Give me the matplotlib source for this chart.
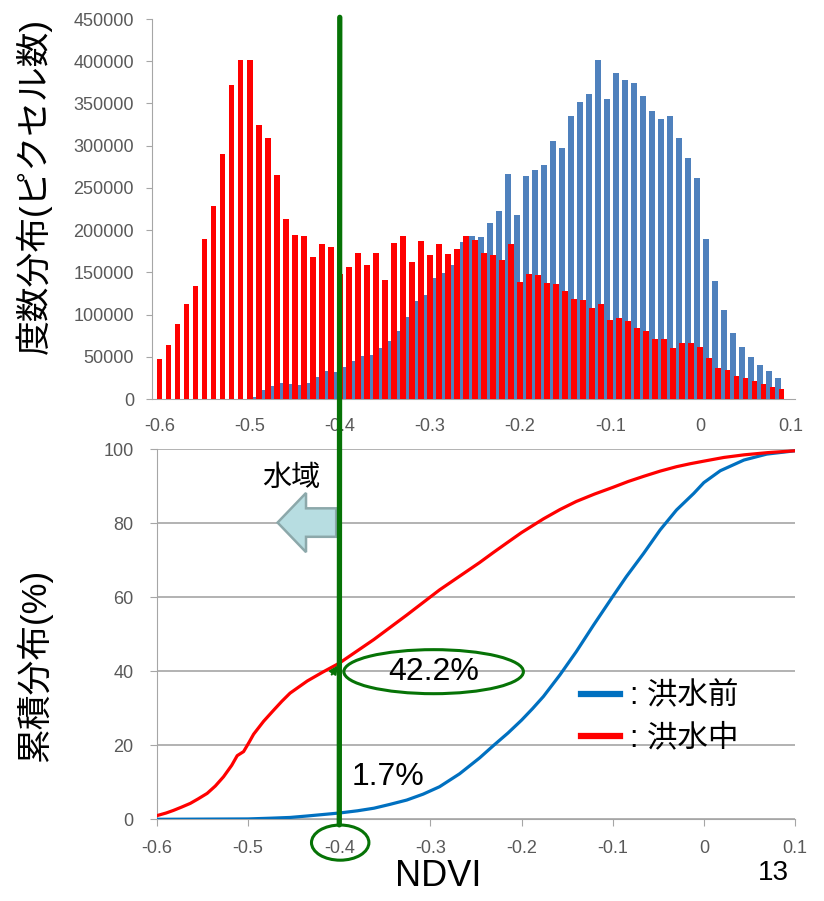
import numpy as np
import matplotlib
matplotlib.use("Agg")
import matplotlib.pyplot as plt
from matplotlib.patches import Ellipse, FancyArrow, ConnectionPatch

plt.rcParams['font.family'] = ['Liberation Sans', 'Noto Sans CJK JP']

# histogram bins (NDVI), 0.01 wide
ndvi_bins = np.round(np.arange(-0.6, 0.095, 0.01), 2)

# pixel counts, before flood (blue)
count_before = [0, 0, 0, 0, 0, 0, 0, 0, 0, 0, 500, 2700, 10700, 15400, 18600,
                17400, 16600, 18600, 25700, 33500, 32300, 38300, 45400, 50900, 52100,
                60000, 68700, 80900, 97500, 116400, 123200, 142900, 148800, 158700, 186300,
                193000, 191500, 208800, 223000, 266600, 218000, 263800, 270900, 277300, 306100,
                297800, 335700, 352300, 361400, 400900, 354700, 386300, 377200, 374800, 359400,
                341600, 331000, 334900, 308800, 285500, 261800, 189200, 139800, 105100, 78600,
                62000, 50200, 40700, 33200, 24500]

# pixel counts, during flood (red)
count_during = [47000, 63600, 88900, 113000, 133500, 189600, 228700, 290300, 372000, 401700,
                400900, 324300, 309600, 265400, 213700, 194700, 193100, 168200, 183300, 179700,
                147700, 156000, 172600, 158800, 172600, 141000, 184400, 193100, 161900, 187200,
                171000, 183300, 171800, 178100, 192700, 188000, 172600, 170600, 164700, 183300,
                139000, 148500, 146900, 137400, 135900, 128000, 118900, 116900, 107400, 112200,
                93600, 95600, 92800, 83700, 80600, 70700, 70700, 60000, 66000, 66000,
                62000, 49000, 36300, 34400, 27600, 25300, 21300, 17400, 14600, 11800]

# cumulative distribution (%)
cum_before_x = [-0.6, -0.5, -0.475, -0.454, -0.435, -0.4, -0.38, -0.362, -0.345, -0.326,
                -0.308, -0.29, -0.268, -0.246, -0.231, -0.215, -0.2, -0.188, -0.176, -0.158,
                -0.14, -0.121, -0.1, -0.085, -0.066, -0.048, -0.03, -0.011, 0.0, 0.018,
                0.044, 0.069, 0.1]
cum_before_y = [0, 0.1, 0.3, 0.5, 0.9, 1.7, 2.3, 3.0, 4.0, 5.2,
                6.8, 8.8, 12.3, 16.6, 19.9, 23.3, 26.8, 29.9, 33.2, 39.0,
                45.3, 52.5, 60.2, 65.6, 71.9, 78.2, 83.6, 88.1, 91.0, 94.2,
                97.1, 98.7, 99.6]

cum_during_x = [-0.6, -0.59, -0.582, -0.573, -0.5635, -0.555, -0.545, -0.536, -0.527, -0.518,
                -0.512, -0.505, -0.499, -0.494, -0.483, -0.472, -0.463, -0.454, -0.435, -0.418,
                -0.4, -0.381, -0.362, -0.344, -0.326, -0.308, -0.29, -0.268, -0.246, -0.231,
                -0.215, -0.2, -0.176, -0.158, -0.14, -0.12, -0.1, -0.083, -0.066, -0.048,
                -0.03, -0.015, 0.0, 0.022, 0.044, 0.07, 0.1]
cum_during_y = [1.0, 1.7, 2.4, 3.3, 4.3, 5.5, 7.0, 9.0, 11.5, 14.6,
                17.2, 18.3, 20.8, 23.0, 26.5, 29.5, 31.9, 34.1, 37.4, 39.8,
                42.2, 45.4, 48.6, 51.9, 55.2, 58.6, 62.0, 65.7, 69.4, 72.1,
                74.9, 77.5, 81.2, 83.7, 85.9, 87.9, 89.7, 91.3, 92.7, 94.1,
                95.3, 96.1, 96.8, 97.8, 98.5, 99.1, 99.6]

threshold = -0.4
gray = '#595959'
axis_gray = '#a6a6a6'
green = '#067306'

fig = plt.figure(figsize=(8.24, 9.01), dpi=100)

# ---- top: histogram
ax1 = fig.add_axes([152/824, 1-399/901, 643/824, 380/901])
ax1.bar(ndvi_bins - 0.0037, count_before, width=0.0064, color='#4f81bd', zorder=2)
ax1.bar(ndvi_bins, count_during, width=0.0064, color='#ff0000', zorder=3)
ax1.set_xlim(-0.6083, 0.105)
ax1.set_ylim(0, 450000)
ax1.set_yticks(np.arange(0, 450001, 50000))
ax1.set_xticks(np.round(np.arange(-0.6, 0.11, 0.1), 1))
ax1.set_xticklabels(['-0.6', '-0.5', '-0.4', '-0.3', '-0.2', '-0.1', '0', '0.1'])
for s in ['top', 'right']:
    ax1.spines[s].set_visible(False)
for s in ['left', 'bottom']:
    ax1.spines[s].set_color(axis_gray)
ax1.tick_params(axis='y', colors=axis_gray, labelcolor=gray, labelsize=13, length=4, pad=9)
ax1.tick_params(axis='x', length=0, labelcolor=gray, labelsize=13, pad=14)

# ---- bottom: cumulative distribution
ax2 = fig.add_axes([157/824, 1-819.3/901, 638/824, 370/901])
ax2.plot(cum_before_x, cum_before_y, color='#0070c0', lw=2.3, label=': 洪水前', zorder=3)
ax2.plot(cum_during_x, cum_during_y, color='#ff0000', lw=2.3, label=': 洪水中', zorder=3)
ax2.set_xlim(-0.6, 0.1)
ax2.set_ylim(0, 100)
ax2.set_yticks(np.arange(0, 101, 20))
ax2.set_xticks(np.round(np.arange(-0.6, 0.11, 0.1), 1))
ax2.set_xticklabels(['-0.6', '-0.5', '-0.4', '-0.3', '-0.2', '-0.1', '0', '0.1'])
ax2.grid(axis='y', color=axis_gray, lw=1.2, zorder=0)
for s in ['top', 'right']:
    ax2.spines[s].set_visible(False)
for s in ['left', 'bottom']:
    ax2.spines[s].set_color(axis_gray)
ax2.tick_params(axis='both', colors=axis_gray, labelcolor=gray, labelsize=13, length=5)
ax2.tick_params(axis='x', pad=10)
ax2.tick_params(axis='y', pad=12)

leg = ax2.legend(loc='upper left', bbox_to_anchor=(0.664, 0.372), frameon=False,
                 fontsize=22, handlelength=1.3, handletextpad=0.3, labelspacing=0.38,
                 borderpad=0, borderaxespad=0)
for ln in leg.get_lines():
    ln.set_linewidth(4.5)

# green threshold line across both charts
con = ConnectionPatch(xyA=(threshold, 452000), coordsA=ax1.transData,
                      xyB=(threshold, -1.5), coordsB=ax2.transData,
                      color=green, lw=3.8, zorder=10)
fig.add_artist(con)

ax2.add_patch(Ellipse((-0.2965, 39.9), 0.197, 11.9, fill=False, ec=green, lw=2.2, zorder=5))
ax2.text(-0.2965, 39.9, '42.2%', fontsize=23, ha='center', va='center', zorder=6)
ax2.annotate('', xy=(-0.4, 42.2), xytext=(-0.41, 38.5),
             arrowprops=dict(arrowstyle='-|>', color=green, lw=1.5, mutation_scale=12))
ax2.add_patch(Ellipse((-0.399, -6.3), 0.063, 9.5, fill=False, ec=green, lw=2.2,
                      clip_on=False, zorder=5))
ax2.text(-0.347, 11.4, '1.7%', fontsize=23, ha='center', va='center')

# water area arrow
ax2.add_patch(FancyArrow(-0.4034, 80.2, -0.0643, 0, width=7.7, head_width=16,
                         head_length=0.0312, length_includes_head=True,
                         fc='#b7dde1', ec='#8ca8aa', lw=1.8, zorder=4))
ax2.text(-0.453, 92.2, '水域', fontsize=21, ha='center', va='center')

fig.text(34/824, 1-186/901, '度数分布(ピクセル数)', rotation=90, fontsize=25,
         ha='center', va='center')
fig.text(34/824, 1-665/901, '累積分布(%)', rotation=90, fontsize=25,
         ha='center', va='center')
fig.text(438/824, 1-877/901, 'NDVI', fontsize=26, ha='center', va='center')
fig.text(773/824, 1-873/901, '13', fontsize=20, ha='center', va='center')

fig.savefig('out.png', dpi=100)
